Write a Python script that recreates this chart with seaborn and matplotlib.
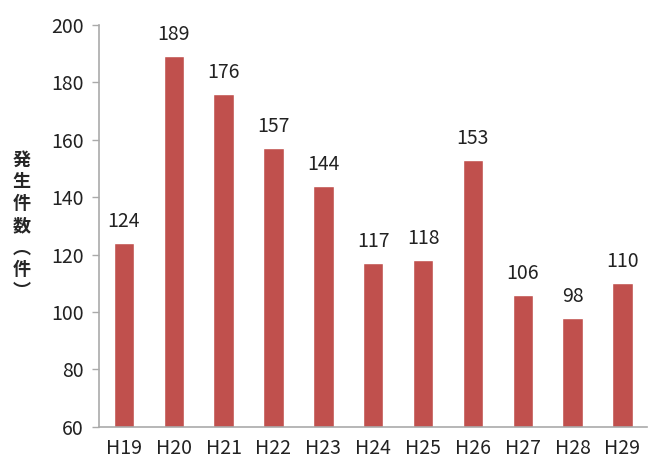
import matplotlib
matplotlib.use("Agg")
import matplotlib.pyplot as plt
import seaborn as sns
import pandas as pd

years = ["H19", "H20", "H21", "H22", "H23", "H24", "H25", "H26", "H27", "H28", "H29"]
counts = [124, 189, 176, 157, 144, 117, 118, 153, 106, 98, 110]
y_ticks = [60, 80, 100, 120, 140, 160, 180, 200]
y_label = "発生件数︵件︶"

df = pd.DataFrame({"year": years, "count": counts})

sns.set_style("white")
plt.rcParams["font.family"] = ["Noto Sans CJK JP", "DejaVu Sans"]

fig = plt.figure(figsize=(6.49, 4.61), dpi=100)
ax = fig.add_axes([0.1525, 0.074, 0.845, 0.872])

sns.barplot(data=df, x="year", y="count", color="#C0504D", width=0.41,
            saturation=1, ax=ax)

ax.set_ylim(60, 200)
ax.set_yticks(y_ticks)
ax.set_xlabel("")
ax.set_ylabel("")
ax.tick_params(axis="y", labelsize=14, colors="#222222", length=5,
               width=1, color="#AAAAAA", direction="out", left=True, pad=6)
ax.tick_params(axis="x", labelsize=14, colors="#222222", length=0, pad=8)
for s in ["top", "right"]:
    ax.spines[s].set_visible(False)
for s in ["left", "bottom"]:
    ax.spines[s].set_color("#AAAAAA")
    ax.spines[s].set_linewidth(1.2)

for i, v in enumerate(counts):
    ax.annotate(str(v), (i, v), xytext=(0, 8), textcoords="offset points",
                ha="center", va="bottom", fontsize=14, color="#222222")

fig.text(0.033, 0.51, "\n".join(y_label), ha="center", va="center",
         fontsize=13, fontweight="bold", linespacing=1.2)

fig.savefig("out.png", dpi=100)
